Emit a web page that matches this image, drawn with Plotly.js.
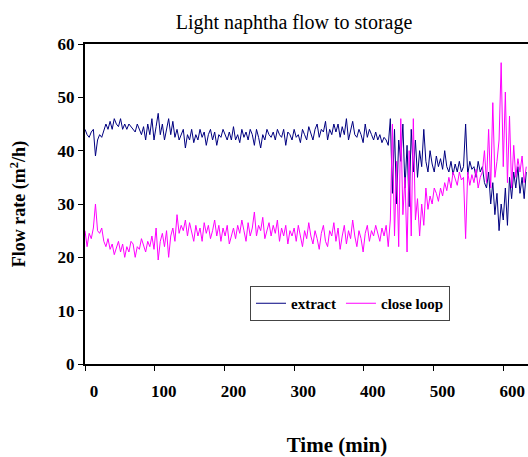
<!DOCTYPE html>
<html>
<head>
<meta charset="utf-8">
<script src="https://cdn.plot.ly/plotly-3.0.1.min.js"></script>
<style>
html,body{margin:0;padding:0;overflow:hidden;background:#fff;width:528px;height:457px;}
#chart{width:589px;height:457px;}
</style>
</head>
<body>
<div id="chart"></div>
<script>
// sampling interval of the logged data (minutes)
const sampleMinutes = 3;

const extract = [
  44, 43, 42.5, 43.5, 44, 39, 42, 43, 42.5, 44,
  45, 44, 45.5, 44, 46, 45, 44.5, 46, 44, 45,
  44, 45, 44.5, 44, 43.5, 45, 44, 43, 44.5, 42,
  45, 43, 46, 42, 44.5, 47, 43, 45, 42, 44,
  46, 43, 45.5, 42.5, 44, 42, 43, 44, 40.5, 43,
  42, 44, 41.5, 43, 42, 44, 42.5, 43.5, 41, 43,
  44, 42, 43.5, 41, 43, 42.5, 44, 43, 42, 43.5,
  42, 44.5, 42, 43, 41.5, 44, 42.5, 43.5, 42, 44,
  43, 41, 44, 42.5, 40.5, 43, 42, 44, 43, 42.5,
  43.5, 42, 44, 43, 42.5, 44, 41, 43.5, 43, 42,
  44, 42.5, 43, 41.5, 44, 43, 42, 44.5, 43, 42,
  44, 45, 42.5, 44, 43.5, 45.5, 42, 44, 43, 45,
  43.5, 45, 42.5, 44.5, 43, 46, 42, 44, 45.5, 43,
  42.5, 44, 43, 41.5, 45, 42.5, 44, 43, 42, 43.5,
  42, 43, 41.5, 42.5, 42, 41, 46, 32, 44, 30,
  42, 38, 45, 33, 41, 29.5, 44, 36, 42, 35,
  40, 37, 44, 38, 36, 40, 37.5, 36, 39, 37,
  38.5, 36.5, 40, 37, 36, 38, 35.5, 37.5, 36, 38,
  36, 37, 45, 35.5, 38, 36.5, 37, 35, 38, 36,
  37, 34, 33, 36, 30, 34, 28, 32, 25, 30,
  27, 33, 26, 35, 31, 36, 33, 37, 32, 35,
  31, 36
];

const closeLoop = [
  25, 22, 24.5, 23.5, 25.5, 30, 25, 24.5, 25.5, 23,
  22, 23.5, 21.5, 22.5, 20.5, 22, 23, 21, 22.5, 20,
  22, 21, 23, 22.5, 20, 22, 21.5, 23.5, 22, 21,
  23, 22, 24, 21.5, 25.5, 19.5, 23, 24.5, 22, 25,
  20, 24, 25.5, 23, 28, 24.5, 26, 25, 27, 24,
  26.5, 25, 23, 26, 24, 25.5, 23, 26.5, 24.5, 26,
  23.5, 25, 27, 24, 26, 23, 25.5, 24, 26, 22.5,
  24, 25.5, 23.5, 26, 24.5, 27, 25, 23, 26.5, 24,
  25.5, 28.5, 24, 26, 25, 27.5, 23.5, 25, 26.5, 24,
  26, 24.5, 27, 23, 25.5, 24, 26, 22.5, 25, 24,
  25.5, 23, 26, 24, 22, 25, 23.5, 26.5, 24, 22.5,
  25, 23.5, 21.5, 24.5, 26, 23, 22, 25, 24, 26.5,
  23, 25.5, 21.5, 24, 26, 22.5, 25, 23.5, 27, 24,
  22, 25, 23.5, 21, 24.5, 26, 23, 25, 24, 26,
  24.5, 23, 25.5, 24, 26, 22, 27, 45, 24, 38,
  22, 46, 28, 35, 21, 40, 24, 46, 27, 31,
  24, 30, 26, 33, 29, 31.5, 30, 33, 32, 30.5,
  33, 31.5, 34, 32.5, 35, 33, 36, 34.5, 33.5, 36,
  34.5, 35, 23.5, 36, 33.5, 35.5, 34, 36.5, 33, 35,
  36, 40, 34, 44, 33, 49, 35, 38, 42, 56.5,
  37, 51, 34, 46.5, 33, 41, 35, 38.5, 36, 39,
  34, 37
];

const xTickVals = [0, 100, 200, 300, 400, 500, 600];
const yTickVals = [0, 10, 20, 30, 40, 50, 60];

const timeMin = extract.map((_, i) => i * sampleMinutes);

const serif = '"Liberation Serif", "Times New Roman", Times, serif';

const traces = [
  {x: timeMin, y: extract, name: 'extract', type: 'scatter', mode: 'lines',
   line: {color: '#000080', width: 1}},
  {x: timeMin, y: closeLoop, name: 'close loop', type: 'scatter', mode: 'lines',
   line: {color: '#FF00FF', width: 1}}
];

const layout = {
  width: 589, height: 457,
  margin: {l: 85, r: 0, t: 44, b: 93},
  paper_bgcolor: '#fff', plot_bgcolor: '#fff',
  showlegend: true,
  title: {text: 'Light naphtha flow to storage', font: {family: serif, size: 20, color: '#000'},
          xref: 'container', x: 294/589, xanchor: 'center', yref: 'container', y: 1 - 22/457, yanchor: 'middle'},
  xaxis: {
    range: [0, 723], tickvals: xTickVals, ticktext: xTickVals.map(String),
    showgrid: false, zeroline: false, showline: true, linecolor: '#000', linewidth: 2, mirror: true,
    ticks: 'outside', ticklen: 5, tickwidth: 1, tickcolor: '#000',
    ticklabelshift: 9, ticklabelstandoff: 6,
    tickfont: {family: serif, size: 17, color: '#000', weight: 'bold'},
    title: {text: '<b>Time (min)</b>', font: {family: serif, size: 21, color: '#000'}, standoff: 39}
  },
  yaxis: {
    range: [0, 60], tickvals: yTickVals, ticktext: yTickVals.map(String),
    showgrid: false, zeroline: false, showline: true, linecolor: '#000', linewidth: 2,
    ticks: 'outside', ticklen: 5, tickwidth: 1, tickcolor: '#000',
    tickfont: {family: serif, size: 17, color: '#000', weight: 'bold'},
    title: {text: '<b>Flow rate (m<sup>2</sup>/h)</b>', font: {family: serif, size: 18, color: '#000'}, standoff: 27}
  },
  legend: {
    orientation: 'h', x: (250-85)/504, xanchor: 'left', y: (364-286)/320, yanchor: 'top',
    bgcolor: '#fff', bordercolor: '#444', borderwidth: 1,
    font: {family: serif, size: 15, color: '#000', weight: 'bold'},
    tracegroupgap: 0, itemwidth: 30
  }
};

Plotly.newPlot('chart', traces, layout, {displayModeBar: false, staticPlot: true});
</script>
</body>
</html>
